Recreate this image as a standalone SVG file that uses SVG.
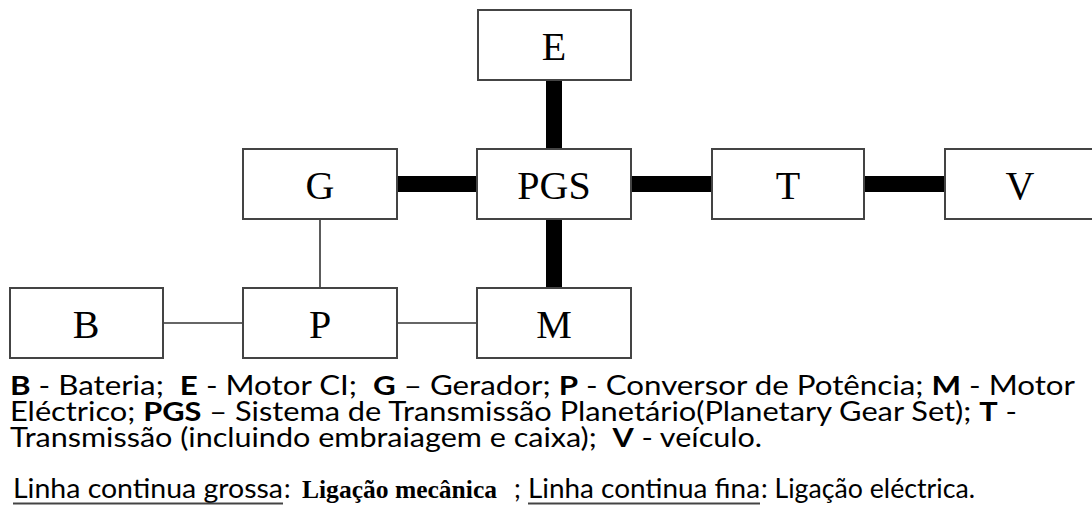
<svg xmlns="http://www.w3.org/2000/svg" width="1092" height="510" viewBox="0 0 1092 510">
  <style>
    .box { fill: #ffffff; stroke: #444444; stroke-width: 2; }
    .lbl { font-family: "Liberation Serif", "Times New Roman", serif; font-size: 40px; fill: #000000; text-anchor: middle; }
    .mech { stroke: #000000; stroke-width: 16; fill: none; }
    .elec { stroke: #333333; stroke-width: 1.6; fill: none; }
    .leg { font-family: Lato, "Open Sans", "DejaVu Sans", sans-serif; font-size: 26px; fill: #000000; white-space: pre; }
    .b { font-weight: bold; }
    .ser { font-family: "Liberation Serif", "Times New Roman", serif; font-weight: bold; font-size: 26px; }
    .ul { stroke: #444444; stroke-width: 2.2; }
  </style>
  <rect width="1092" height="510" fill="#ffffff"/>

  <!-- connectors: thick = mechanical link, thin = electrical link -->
  <g id="connectors">
    <line class="mech" x1="554" y1="80" x2="554" y2="149"/>
    <line class="mech" x1="397" y1="184" x2="477" y2="184"/>
    <line class="mech" x1="631" y1="184" x2="712" y2="184"/>
    <line class="mech" x1="864" y1="184" x2="945" y2="184"/>
    <line class="mech" x1="554" y1="219" x2="554" y2="288"/>
    <line class="elec" x1="320" y1="219" x2="320" y2="288"/>
    <line class="elec" x1="163" y1="323" x2="243" y2="323"/>
    <line class="elec" x1="397" y1="323" x2="477" y2="323"/>
  </g>

  <g id="node-E">
    <rect class="box" x="478" y="10" width="153" height="70"/>
    <text class="lbl" x="554" y="60">E</text>
  </g>
  <g id="node-G">
    <rect class="box" x="243" y="149" width="154" height="70"/>
    <text class="lbl" x="320" y="199">G</text>
  </g>
  <g id="node-PGS">
    <rect class="box" x="477" y="149" width="154" height="70"/>
    <text class="lbl" x="554" y="199">PGS</text>
  </g>
  <g id="node-T">
    <rect class="box" x="712" y="149" width="152" height="70"/>
    <text class="lbl" x="788" y="199">T</text>
  </g>
  <g id="node-V">
    <rect class="box" x="945" y="149" width="154" height="70"/>
    <text class="lbl" x="1020" y="199">V</text>
  </g>
  <g id="node-B">
    <rect class="box" x="10" y="288" width="153" height="70"/>
    <text class="lbl" x="86" y="338">B</text>
  </g>
  <g id="node-P">
    <rect class="box" x="243" y="288" width="154" height="70"/>
    <text class="lbl" x="320" y="338">P</text>
  </g>
  <g id="node-M">
    <rect class="box" x="477" y="288" width="154" height="70"/>
    <text class="lbl" x="554" y="338">M</text>
  </g>

  <!-- legend -->
  <g id="legend">
    <text class="leg" x="10" y="395" textLength="1065" lengthAdjust="spacingAndGlyphs"><tspan class="b">B</tspan> - Bateria;  <tspan class="b">E</tspan> - Motor CI;  <tspan class="b">G</tspan> – Gerador; <tspan class="b">P</tspan> - Conversor de Potência; <tspan class="b">M</tspan> - Motor</text>
    <text class="leg" x="10" y="421" textLength="1007" lengthAdjust="spacingAndGlyphs">Eléctrico; <tspan class="b">PGS</tspan> – Sistema de Transmissão Planetário(Planetary Gear Set); <tspan class="b">T</tspan> -</text>
    <text class="leg" x="10" y="447" textLength="752" lengthAdjust="spacingAndGlyphs">Transmissão (incluindo embraiagem e caixa);  <tspan class="b">V</tspan> - veículo.</text>

    <text class="leg" x="13" y="498" textLength="270" lengthAdjust="spacingAndGlyphs">Linha continua grossa</text>
    <text class="leg" x="284" y="498">:</text>
    <text class="leg ser" x="302" y="498" textLength="195" lengthAdjust="spacingAndGlyphs">Ligação mecânica</text>
    <text class="leg" x="514" y="498">;</text>
    <text class="leg" x="528" y="498" textLength="232" lengthAdjust="spacingAndGlyphs">Linha continua fina</text>
    <text class="leg" x="761" y="498" textLength="214" lengthAdjust="spacingAndGlyphs">: Ligação eléctrica.</text>
    <line class="ul" x1="13" y1="503.5" x2="283" y2="503.5"/>
    <line class="ul" x1="528" y1="503.5" x2="760" y2="503.5"/>
  </g>
</svg>
